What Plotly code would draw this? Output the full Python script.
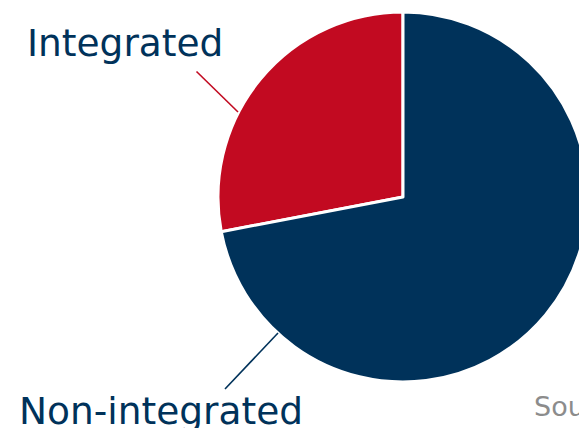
import plotly.graph_objects as go

labels = ["Integrated", "Non-integrated"]
values = [28, 72]
colors = ["#c20a21", "#00325a"]
source_text = "Source:"

W, H = 600, 428

def px(x):
    return x / W

def py(y):
    return 1 - y / H

# start the first slice so that it ends at 12 o'clock (clockwise drawing)
start_rot = 360 * values[1] / sum(values)

fig = go.Figure(go.Pie(
    labels=labels, values=values, sort=False, direction="clockwise", rotation=start_rot,
    marker=dict(colors=colors, line=dict(color="white", width=3)),
    textinfo="none", hoverinfo="label+percent", showlegend=False,
    domain=dict(x=[218 / W, 588 / W], y=[py(382), py(12)]),
))

font_lab = dict(family="DejaVu Sans", size=37.5, color="#00325a")
fig.add_annotation(x=px(24.5), y=py(42.5), xref="paper", yref="paper", text=labels[0],
                   showarrow=False, xanchor="left", yanchor="middle", font=font_lab)
fig.add_annotation(x=px(16.5), y=py(411), xref="paper", yref="paper", text=labels[1],
                   showarrow=False, xanchor="left", yanchor="middle", font=font_lab)
fig.add_annotation(x=px(532), y=py(406), xref="paper", yref="paper", text=source_text,
                   showarrow=False, xanchor="left", yanchor="middle",
                   font=dict(family="DejaVu Sans", size=27, color="#8c8c8c"))

fig.add_shape(type="line", xref="paper", yref="paper", x0=px(196.5), y0=py(71.5), x1=px(238), y1=py(112),
              line=dict(color=colors[0], width=1.6))
fig.add_shape(type="line", xref="paper", yref="paper", x0=px(225), y0=py(389), x1=px(278), y1=py(333),
              line=dict(color=colors[1], width=1.6))

fig.update_layout(width=W, height=H, margin=dict(l=0, r=0, t=0, b=0),
                  paper_bgcolor="white", plot_bgcolor="white")

fig.write_html("out.html", config={"displayModeBar": False},
               post_script="document.body.style.margin='0';document.body.style.overflow='hidden';")
